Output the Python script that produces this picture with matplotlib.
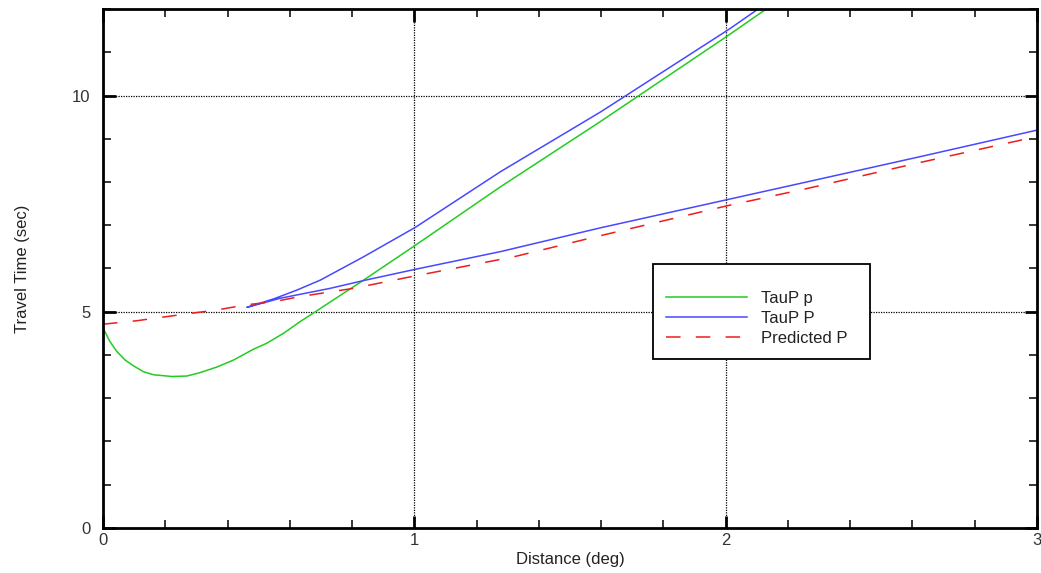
import numpy as np
import matplotlib.pyplot as plt
from matplotlib.ticker import MultipleLocator

plt.rc('font', family='Liberation Sans')

# TauP p branch (green)
dist_p = [0, 0.022, 0.044, 0.071, 0.097, 0.13, 0.162, 0.221, 0.269, 0.312, 0.366,
          0.419, 0.483, 0.526, 0.580, 0.633, 0.674, 0.837, 1.0, 1.277, 1.598, 2.01, 2.13]
time_p = [4.62, 4.31, 4.08, 3.88, 3.75, 3.61, 3.54, 3.50, 3.51, 3.59, 3.72,
          3.88, 4.13, 4.27, 4.50, 4.77, 4.96, 5.73, 6.52, 7.89, 9.40, 11.40, 12.0]

# TauP P, upper and lower branch meeting at the cusp
dist_P_up = [2.10, 2.01, 1.598, 1.277, 1.003, 0.837, 0.698, 0.623, 0.55, 0.462]
time_P_up = [11.98, 11.53, 9.62, 8.24, 6.95, 6.27, 5.73, 5.50, 5.30, 5.10]
dist_P_lo = [0.462, 0.569, 0.730, 0.837, 1.003, 1.277, 1.598, 2.01, 2.241, 2.627, 3.0]
time_P_lo = [5.10, 5.31, 5.54, 5.72, 5.98, 6.39, 6.94, 7.60, 7.97, 8.59, 9.20]

# predicted P
dist_pred = [0, 0.108, 0.28, 0.366, 0.462, 0.548, 0.633, 0.805, 0.976, 1.32, 1.587,
             2.005, 2.262, 2.605, 2.949, 3.0]
time_pred = [4.71, 4.79, 4.96, 5.04, 5.16, 5.23, 5.35, 5.54, 5.79, 6.27, 6.74,
             7.45, 7.85, 8.42, 8.97, 9.05]

fig = plt.figure(figsize=(10.41, 5.73), dpi=100)
ax = fig.add_axes([0.099, 0.079, 0.897, 0.905])

ax.plot(dist_p, time_p, color='#22cc22', lw=1.1, label='TauP p')
ax.plot(dist_P_up + dist_P_lo, time_P_up + time_P_lo, color='#4848ff', lw=1.1, label='TauP P')
ax.plot(dist_pred, time_pred, color='#ee1c1c', lw=1.1, ls=(0, (9.5, 10)), label='Predicted P')

ax.set_xlim(0, 3)
ax.set_ylim(0, 12)
ax.xaxis.set_major_locator(MultipleLocator(1))
ax.xaxis.set_minor_locator(MultipleLocator(0.2))
ax.yaxis.set_major_locator(MultipleLocator(5))
ax.yaxis.set_minor_locator(MultipleLocator(1))
ax.tick_params(which='both', direction='in', top=True, right=True, labelsize=12,
               color='black', labelcolor='#333333')
ax.tick_params(which='major', length=9, width=2)
ax.tick_params(which='minor', length=6, width=1.1)
ax.tick_params(axis='x', pad=4)
ax.tick_params(axis='y', pad=9)
for s in ax.spines.values():
    s.set_linewidth(2)

ax.grid(which='major', color='black', ls=(0, (1, 1)), lw=0.9)

ax.set_xlabel('Distance (deg)', fontsize=12, labelpad=3, color='#222222')
ax.set_ylabel('Travel Time (sec)', fontsize=12, labelpad=30, color='#222222')

# blank title just to leave some room above the entries
leg = ax.legend(loc='lower left', bbox_to_anchor=(0.589, 0.326, 0.232, 0.179), mode='expand',
                fontsize=12, title=' ', title_fontsize=7, frameon=True, fancybox=False,
                edgecolor='black', handlelength=4.9, handletextpad=0.8, borderpad=0.75,
                labelspacing=0.3, borderaxespad=0)
leg.get_frame().set_linewidth(1.3)
leg.get_frame().set_alpha(1)
for t in leg.get_texts():
    t.set_ha('left')
    t.set_color('#222222')

fig.savefig('out.png', dpi=100)
